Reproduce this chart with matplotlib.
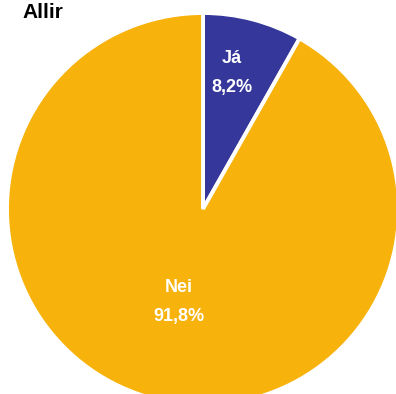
import numpy as np
import matplotlib
matplotlib.use("Agg")
import matplotlib.pyplot as plt

plt.rcParams['font.family'] = ['Liberation Sans', 'DejaVu Sans']

# gögn
flokkar = ['Já', 'Nei']
hlutfall = [8.2, 91.8]
merki = ['8,2%', '91,8%']
litir = ['#35379A', '#F7B20B']
fjarlaegd = [0.71, 0.49]
hornvik = [2.7, 0.3]

fig = plt.figure(figsize=(3.96, 3.94), dpi=100)
W, H = 396, 394
cx, cy, r = 203, 394 - 209, 196
ax = fig.add_axes([(cx - r) / W, (cy - r) / H, 2 * r / W, 2 * r / H])

wedges, _ = ax.pie(hlutfall, colors=litir, startangle=90, counterclock=False,
                   radius=1, wedgeprops=dict(edgecolor='white', linewidth=2.8))
ax.set_xlim(-1, 1)
ax.set_ylim(-1, 1)
ax.set_aspect('equal')
ax.axis('off')

for w, nafn, m, d, v in zip(wedges, flokkar, merki, fjarlaegd, hornvik):
    ang = np.deg2rad((w.theta1 + w.theta2) / 2 + v)
    x, y = d * np.cos(ang), d * np.sin(ang)
    ax.text(x, y, nafn + '\n' + m, ha='center', va='center', color='white',
            fontsize=13, fontweight='bold', linespacing=1.9)

fig.text(22 / W, 1 - 3 / H, 'Allir', ha='left', va='top',
         fontsize=15, fontweight='bold')

fig.savefig('out.png', dpi=100)
